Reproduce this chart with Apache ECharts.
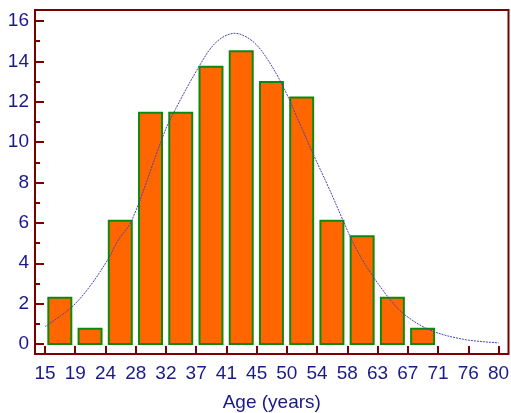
<!DOCTYPE html>
<html>
<head>
<meta charset="utf-8">
<script src="https://cdn.jsdelivr.net/npm/echarts@6/dist/echarts.min.js"></script>
<style>html,body{margin:0;padding:0;background:#fff;}#chart{width:511px;height:413px;}</style>
</head>
<body>
<div id="chart"></div>
<script>
// ---- data ----
const ageMin = 15;
const ageMax = 80;
const tickLabels = ['15','19','24','28','32','37','41','45','50','54','58','63','67','71','76','80'];
const yMajorTicks = [0, 2, 4, 6, 8, 10, 12, 14, 16];
const yMinorTicks = [1, 3, 5, 7, 9, 11, 13, 15];
const binPercent = [2.29, 0.76, 6.11, 11.45, 11.45, 13.74, 14.50, 12.98, 12.21, 6.11, 5.34, 2.29, 0.76];
const curveAges = [15, 18.8, 21.5, 24.1, 25.5, 27.4, 31.7, 32.9, 37.2, 39.6, 42.2, 44.4, 46.3, 48.9, 51.3, 53.5, 55.6, 57.8, 59.2, 61.1, 64.5, 66.6, 70.2, 75.0, 80];
const curveValues = [0.86, 1.82, 2.89, 4.24, 5.15, 6.09, 10.10, 11.09, 13.82, 14.97, 15.39, 15.09, 14.40, 12.91, 11.09, 9.36, 7.79, 6.06, 4.99, 3.83, 2.18, 1.44, 0.69, 0.23, 0.06];
const xTitle = 'Age (years)';

// ---- build ----
const nBins = tickLabels.length - 1;
const binWidth = (ageMax - ageMin) / nBins;
const xTickPos = tickLabels.map((t, i) => i);
const barData = binPercent.map((v, i) => [i, v]);
const curveData = curveAges.map((a, i) => [(a - ageMin) / binWidth, curveValues[i]]);

const frameColor = '#7a0000';
const textColor = '#1a1a8a';
const fontFamily = 'Liberation Sans, Arial, sans-serif';

const chart = echarts.init(document.getElementById('chart'), null, {renderer: 'canvas'});
chart.setOption({
  animation: false,
  backgroundColor: '#ffffff',
  grid: {left: 35, right: 2.5, top: 10, bottom: 59, containLabel: false, outerBoundsMode: 'none',
    show: true, borderColor: frameColor, borderWidth: 2, backgroundColor: 'transparent', z: 5},
  xAxis: {
    type: 'value', min: -0.331, max: nBins + 0.331,
    axisLine: {show: false, onZero: false},
    axisTick: {show: true, inside: true, length: 8, customValues: xTickPos, lineStyle: {color: frameColor, width: 2}},
    splitLine: {show: false},
    axisLabel: {color: textColor, fontSize: 19, fontFamily: fontFamily, margin: 10, customValues: xTickPos,
      formatter: v => tickLabels[Math.round(v)]},
    name: xTitle, nameLocation: 'middle', nameGap: 39,
    nameTextStyle: {color: textColor, fontSize: 19, fontFamily: fontFamily}
  },
  yAxis: [
    {
      type: 'value', min: -0.495, max: 16.545, position: 'left',
      axisLine: {show: false, onZero: false},
      axisTick: {show: true, inside: true, length: 9, customValues: yMajorTicks, lineStyle: {color: frameColor, width: 2}},
      splitLine: {show: false},
      axisLabel: {color: textColor, fontSize: 19, fontFamily: fontFamily, margin: 6, customValues: yMajorTicks}
    },
    {
      type: 'value', min: -0.495, max: 16.545, position: 'left', offset: 0,
      axisLine: {show: false, onZero: false},
      axisTick: {show: true, inside: true, length: 5, customValues: yMinorTicks, lineStyle: {color: frameColor, width: 2}},
      splitLine: {show: false},
      axisLabel: {show: false}
    }
  ],
  series: [
    {
      type: 'custom', xAxisIndex: 0, yAxisIndex: 0,
      encode: {x: 0, y: 1},
      data: barData,
      renderItem: (params, api) => {
        const i = api.value(0), v = api.value(1);
        const p0 = api.coord([i + 0.11, v]);
        const p1 = api.coord([i + 0.87, 0]);
        return {
          type: 'rect',
          shape: {x: p0[0], y: p0[1], width: p1[0] - p0[0], height: p1[1] - p0[1]},
          style: {fill: '#ff6600', stroke: '#0c8a0c', lineWidth: 2}
        };
      },
      z: 2
    },
    {
      type: 'line', xAxisIndex: 0, yAxisIndex: 0,
      data: curveData, smooth: 0.35, showSymbol: false, symbol: 'none',
      lineStyle: {color: '#4444b4', width: 1, type: [2, 1]},
      z: 3
    }
  ]
});
</script>
</body>
</html>
